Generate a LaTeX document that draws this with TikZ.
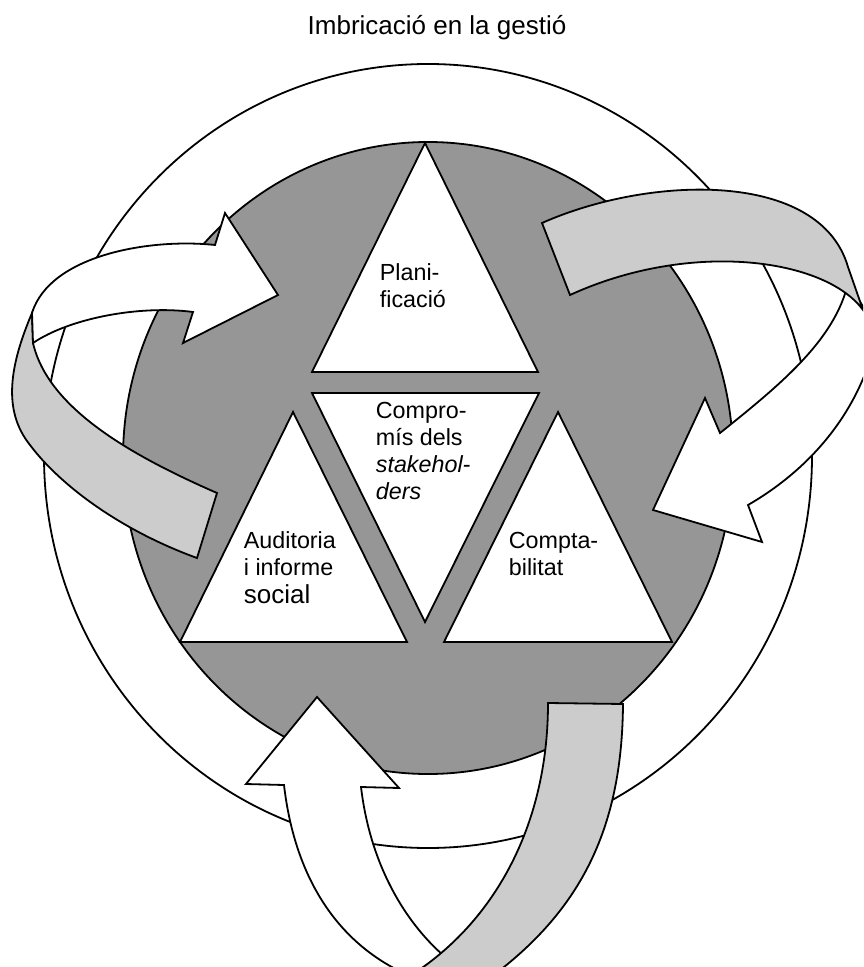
\documentclass[tikz,border=0pt]{standalone}
\usepackage{fontspec}
\setmainfont{Liberation Sans}
\usepackage{tikz}
\usetikzlibrary{positioning}

\definecolor{discgray}{gray}{0.59}
\definecolor{bandgray}{gray}{0.8}

\begin{document}
\begin{tikzpicture}[
  x=0.5pt, y=-0.5pt,
  line width=0.9pt,
  ring/.style={draw, fill=white},
  disc/.style={draw, fill=discgray},
  tri/.style={draw, fill=white},
  frontband/.style={draw, fill=white},
  backband/.style={draw, fill=bandgray},
  lbl/.style={anchor=north west, inner sep=0pt, align=left, font=\fontsize{11.65}{13.6}\selectfont}
]
\useasboundingbox (0,0) rectangle (863,967);
\clip (0,0) rectangle (863,967);

\node[inner sep=0pt, anchor=base, font=\fontsize{13}{15}\selectfont] (title) at (437,35) {Imbricació en la gestió};

% rings
\draw[ring] (428,456) ellipse [x radius=384, y radius=392];
\draw[disc] (428,458) ellipse [x radius=305, y radius=316];

% triangles
\draw[tri] (425,143) -- (538,372) -- (312,372) -- cycle;
\draw[tri] (312,393) -- (539,393) -- (425,622) -- cycle;
\draw[tri] (293,412) -- (407,642) -- (180,642) -- cycle;
\draw[tri] (558,412) -- (672,642) -- (444,642) -- cycle;

\node[lbl] (plan) at (379,263) {Plani-\\ficació};
\node[lbl] (stake) at (375,401) {Compro-\\mís dels\\\textit{stakehol-}\\\textit{ders}};
\node[lbl] (audit) at (243,531) {Auditoria\\i informe\\{\fontsize{13}{15}\selectfont social}};
\node[lbl] (compt) at (508,531) {Compta-\\bilitat};

% left arrow
\draw[backband] (32,313) .. controls (10,365) and (2,410) .. (30,445)
  .. controls (60,485) and (120,530) .. (197,558) -- (217,493)
  .. controls (130,455) and (48,408) .. (33,343) -- cycle;
\draw[frontband] (215,245) -- (225,213) -- (278,295) -- (183,343) -- (193,312)
  .. controls (140,305) and (70,318) .. (33,343) -- (32,313)
  .. controls (50,255) and (150,238) .. (215,245) -- cycle;

% right arrow
\draw[frontband] (720,433) -- (705,398) -- (653,510) -- (762,542) -- (748,505)
  .. controls (800,475) and (860,420) .. (878,330) -- (848,283)
  .. controls (835,340) and (780,385) .. (720,433) -- cycle;
\draw[backband] (542,223) .. controls (650,175) and (820,170) .. (848,267)
  -- (863,310) .. controls (825,258) and (690,240) .. (570,295) -- cycle;

% bottom arrow
\draw[frontband] (361,787) -- (399,788) -- (317,697) -- (246,784) -- (284,785)
  .. controls (295,880) and (340,950) .. (420,980) -- (470,975)
  .. controls (420,945) and (372,880) .. (361,787) -- cycle;
\draw[backband] (548,703) -- (623,704)
  .. controls (622,830) and (580,915) .. (480,985) -- (400,982)
  .. controls (490,930) and (548,830) .. (548,703) -- cycle;
\end{tikzpicture}
\end{document}
